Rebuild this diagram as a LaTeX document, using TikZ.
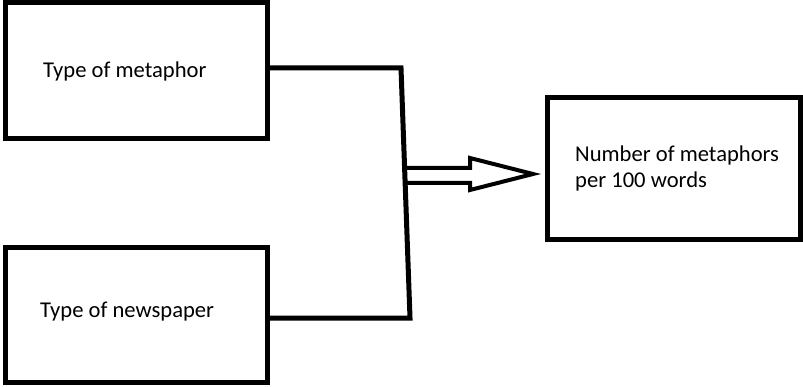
\documentclass[tikz,border=0pt]{standalone}
\usepackage{fontspec}
\setmainfont{Carlito}
\begin{document}
\begin{tikzpicture}[x=1pt,y=-1pt,
  box/.style={draw,line width=5pt,rectangle,inner sep=0pt},
  lbl/.style={anchor=base west,inner sep=0pt,font=\fontsize{22.6}{26}\selectfont,align=left},
  conn/.style={line width=5pt,line join=miter}]
\useasboundingbox (0,0) rectangle (803,387);
\node[box,minimum width=262pt,minimum height=136pt] (m) at (136,71) {};
\node[box,minimum width=262pt,minimum height=134pt] (n) at (136,315) {};
\node[box,minimum width=253pt,minimum height=142pt] (r) at (673.5,169) {};
\node[lbl] (mt) at (43,78) {Type of metaphor};
\node[lbl] (nt) at (40,317) {Type of newspaper};
\node[lbl] (rt) at (575,188) {Number of metaphors\\per 100 words};
\coordinate (j1) at (401,68);
\coordinate (j2) at (410,318);
\draw[conn] (m.east |- j1) -- (j1) -- (j2) -- (n.east |- j2);
\coordinate (a0) at (405,175.5);
\coordinate (tip) at (533,174);
\draw[line width=4pt,line join=miter] (a0 |- 0,168) -- (470,168) -- (470,158) -- (tip) -- (470,190) -- (470,183) -- (a0 |- 0,183);
\end{tikzpicture}
\end{document}
